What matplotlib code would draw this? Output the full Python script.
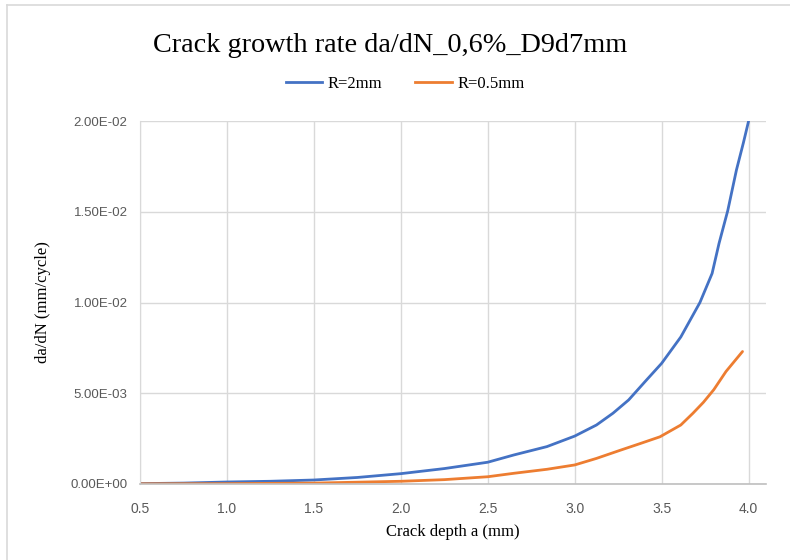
import matplotlib
matplotlib.use("Agg")
import matplotlib.pyplot as plt
from matplotlib.lines import Line2D

# Crack depth a (mm) and growth rate da/dN (mm/cycle)
a_r2 = [0.5, 0.75, 1.0, 1.25, 1.5, 1.75, 2.0, 2.25, 2.5, 2.65, 2.84, 3.0, 3.125,
        3.22, 3.31, 3.41, 3.5, 3.61, 3.72, 3.79, 3.83, 3.88, 3.93, 3.97, 4.0]
dadn_r2 = [0.00002, 0.00005, 0.00011, 0.00015, 0.00022, 0.00036, 0.00057, 0.00085,
           0.0012, 0.0016, 0.00206, 0.00264, 0.00325, 0.0039, 0.00463, 0.0057,
           0.00665, 0.0081, 0.0100, 0.0116, 0.01326, 0.01506, 0.0173, 0.0188, 0.0200]

a_r05 = [0.5, 1.0, 1.5, 2.0, 2.25, 2.5, 2.65, 2.84, 3.0, 3.125, 3.265, 3.38, 3.49,
         3.61, 3.68, 3.74, 3.80, 3.87, 3.965]
dadn_r05 = [0.00001, 0.00002, 0.00005, 0.00015, 0.00024, 0.0004, 0.00059, 0.00081,
            0.00105, 0.00141, 0.00187, 0.00224, 0.0026, 0.00325, 0.0039, 0.0045,
            0.0052, 0.0062, 0.0073]

x_ticks = [0.5, 1.0, 1.5, 2.0, 2.5, 3.0, 3.5, 4.0]
y_ticks = [0.0, 0.005, 0.010, 0.015, 0.020]

serif = ["Liberation Serif", "DejaVu Serif"]
sans = ["Liberation Sans", "DejaVu Sans"]
tick_color = "#595959"
grid_color = "#d9d9d9"

fig = plt.figure(figsize=(7.9, 5.6), dpi=100)
ax = fig.add_axes([140 / 790, 1 - 484 / 560, 626 / 790, 363 / 560])

ax.plot(a_r2, dadn_r2, color="#4472c4", lw=2.0, solid_capstyle="round",
        solid_joinstyle="round", label="R=2mm")
ax.plot(a_r05, dadn_r05, color="#ed7d31", lw=2.0, solid_capstyle="round",
        solid_joinstyle="round", label="R=0.5mm")

ax.set_xlim(0.5, 4.1)
ax.set_ylim(0, 0.02)
ax.set_xticks(x_ticks)
ax.set_xticklabels([f"{v:.1f}" for v in x_ticks], family=sans, fontsize=10, color=tick_color)
ax.set_yticks(y_ticks)
ax.set_yticklabels([f"{v:.2E}" for v in y_ticks], family=sans, fontsize=9.5, color=tick_color)
ax.tick_params(axis="x", length=0, pad=13)
ax.tick_params(axis="y", length=0, pad=9)
ax.grid(True, color=grid_color, lw=1.0)
ax.set_axisbelow(True)
for side in ["top", "right"]:
    ax.spines[side].set_visible(False)
ax.spines["left"].set_color(grid_color)
ax.spines["bottom"].set_color("#bfbfbf")
ax.spines["bottom"].set_linewidth(1.2)

ax.set_xlabel("Crack depth a (mm)", family=serif, fontsize=12, labelpad=6)
ax.set_ylabel("da/dN (mm/cycle)", family=serif, fontsize=12, labelpad=14)

fig.text(390 / 790, 1 - 45 / 560, "Crack growth rate da/dN_0,6%_D9d7mm",
         family=serif, fontsize=20.3, ha="center", va="center")

handles = [Line2D([], [], color="#4472c4", lw=2),
           Line2D([], [], color="#ed7d31", lw=2)]
fig.legend(handles, ["R=2mm", "R=0.5mm"], loc="center", bbox_to_anchor=(405 / 790, 1 - 84 / 560),
           ncol=2, frameon=False, prop={"family": serif, "size": 12},
           handlelength=2.2, handletextpad=0.3, columnspacing=2.0)

# chart area border
fig.add_artist(Line2D([7 / 790, 7 / 790], [0, 1 - 5 / 560], transform=fig.transFigure,
                      color="#d9d9d9", lw=1.2))
fig.add_artist(Line2D([7 / 790, 1], [1 - 5 / 560, 1 - 5 / 560], transform=fig.transFigure,
                      color="#d9d9d9", lw=1.2))

fig.savefig("out.png", dpi=100)
